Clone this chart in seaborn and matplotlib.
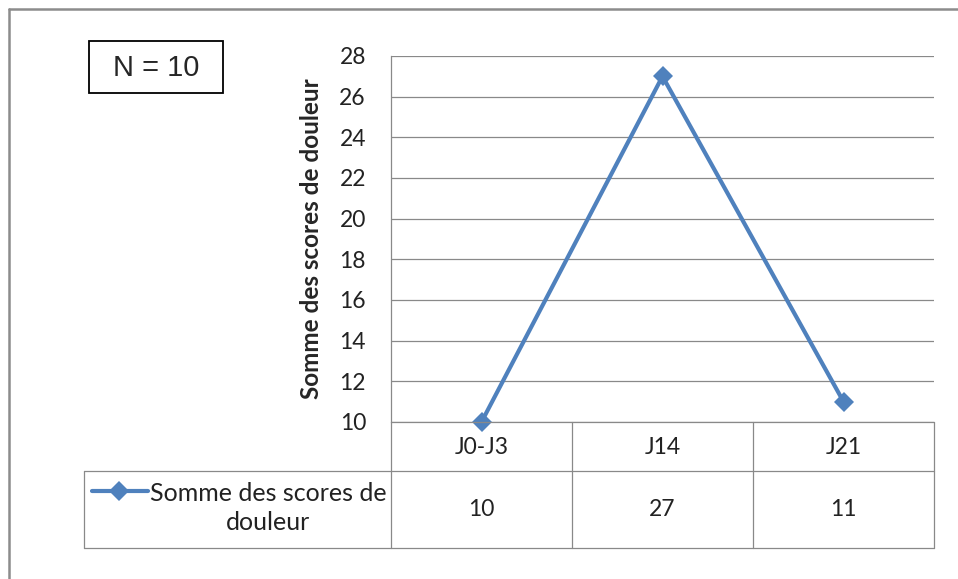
import matplotlib
matplotlib.use("Agg")
import matplotlib.pyplot as plt
from matplotlib.lines import Line2D
from matplotlib.patches import Rectangle
import pandas as pd
import seaborn as sns

# data
periods = ["J0-J3", "J14", "J21"]
pain_sum = [10, 27, 11]
series_name = "Somme des scores de douleur"
y_ticks = [10, 12, 14, 16, 18, 20, 22, 24, 26, 28]

W, H = 958, 579
BLUE = "#4F81BD"
GRID = "#898989"

sns.set_style("white")
plt.rcParams["font.family"] = ["Lato", "DejaVu Sans"]


def fx(px):
    return px / W


def fy(py):
    return 1 - py / H


fig = plt.figure(figsize=(W / 100, H / 100), dpi=100)

# plot area
left, right, top, bottom = 391, 934, 56, 422
ax = fig.add_axes([fx(left), fy(bottom), fx(right - left), (bottom - top) / H])

df = pd.DataFrame({"periode": periods, "score": pain_sum})
sns.lineplot(data=df, x="periode", y="score", ax=ax, color=BLUE,
             linewidth=3, marker="D", markersize=10, markeredgewidth=0,
             sort=False)

ax.set_xlim(-0.5, len(periods) - 0.5)
ax.set_ylim(y_ticks[0], y_ticks[-1])
ax.set_yticks(y_ticks)
ax.set_yticklabels([str(t) for t in y_ticks], fontsize=16.5, color="#222222")
ax.tick_params(axis="y", length=0, pad=18)
ax.set_xticks([])
ax.set_xlabel("")
ax.set_ylabel(series_name, fontsize=17.5, fontweight="bold", labelpad=12)
ax.yaxis.grid(True, color=GRID, linewidth=0.9)
for side in ["top", "right", "bottom"]:
    ax.spines[side].set_visible(False)
ax.spines["left"].set_color(GRID)
ax.spines["left"].set_linewidth(0.9)
for line in ax.lines:
    line.set_clip_on(False)


def hline(y, x0, x1, color=GRID, lw=0.9):
    fig.add_artist(Line2D([fx(x0), fx(x1)], [fy(y), fy(y)], color=color, lw=lw))


def vline(x, y0, y1, color=GRID, lw=0.9):
    fig.add_artist(Line2D([fx(x), fx(x)], [fy(y0), fy(y1)], color=color, lw=lw))


# data table
row1, row2 = 471, 548
col_w = (right - left) / len(periods)
hline(bottom, left, right)
hline(row1, 84, right)
hline(row2, 84, right)
vline(84, row1, row2)
for i in range(len(periods) + 1):
    vline(left + i * col_w, bottom, row2)

for i, (p, v) in enumerate(zip(periods, pain_sum)):
    cx = left + (i + 0.5) * col_w
    fig.text(fx(cx), fy(447), p, ha="center", va="center", fontsize=16.5,
             color="#222222")
    fig.text(fx(cx), fy(510), str(v), ha="center", va="center", fontsize=16.5,
             color="#222222")

# legend key in the table
fig.add_artist(Line2D([fx(92), fx(148)], [fy(491), fy(491)], color=BLUE, lw=3))
fig.add_artist(Line2D([fx(119)], [fy(491)], color=BLUE, marker="D",
                      markersize=10, markeredgewidth=0))
fig.text(fx(268), fy(508), "Somme des scores de\ndouleur", ha="center",
         va="center", fontsize=18, color="#222222", linespacing=1.3)

# N box
fig.add_artist(Rectangle((fx(89), fy(93)), fx(223 - 89), (93 - 41) / H,
                         fill=False, edgecolor="black", linewidth=1.3))
fig.text(fx(156), fy(68), "N = 10", ha="center", va="center", fontsize=21,
         family=["Liberation Sans", "DejaVu Sans"])

# outer frame (top and left only)
hline(8.5, 9, W, color="#8c8c8c", lw=1.8)
vline(9, 8.5, H, color="#8c8c8c", lw=1.8)

fig.savefig("out.png", dpi=100)
plt.close(fig)
